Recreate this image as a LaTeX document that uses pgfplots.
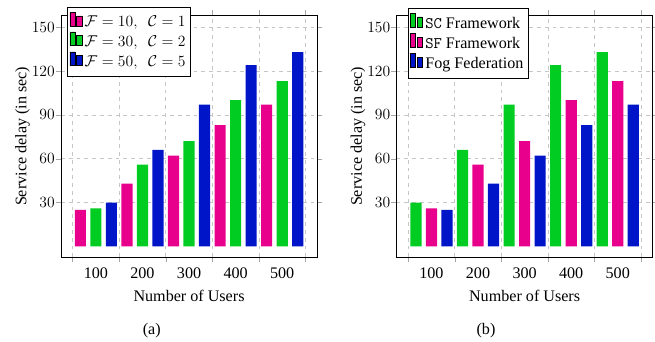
\documentclass[border=0pt]{standalone}
\usepackage[no-math]{fontspec}
\setmainfont{Liberation Serif}
\usepackage{pgfplots}
\pgfplotsset{compat=1.18}
\definecolor{cpink}{RGB}{232,0,140}
\definecolor{cgreen}{RGB}{0,204,34}
\definecolor{cblue}{RGB}{0,20,200}
\pgfplotsset{myaxis/.style={
  width=197pt, height=186pt, scale only axis,
  xmin=0.25, xmax=5.75, ymin=-7.5, ymax=158,
  xtick={1,2,3,4,5}, xticklabels={100,200,300,400,500},
  minor xtick={0.5,1.5,2.5,3.5,4.5,5.5},
  ytick={30,60,90,120,150},
  xmajorgrids=false, xminorgrids=true, ymajorgrids=true,
  grid style={dashed, gray!45},
  minor grid style={dashed, gray!45},
  tick align=outside,
  major tick length=4pt, minor tick length=4pt,
  major x tick style={draw=none},
  tick style={gray!70},
  yticklabel style={xshift=3.5pt},
  ylabel shift=-7pt,
  ybar, bar width=0.24,
  xlabel={Number of Users},
  ylabel={Service delay (in sec)},
  legend cell align=left,
  legend image code/.code={\draw[##1,/tikz/.cd,bar width=4pt,yshift=-0.2em,bar shift=0pt] plot coordinates {(0pt,0.85em) (5.2pt,0.62em)};},
  legend style={anchor=north west, row sep=0pt, inner xsep=1.5pt, inner ysep=3.5pt},
}}
\begin{document}
\fontsize{12.4}{15}\selectfont
\begin{tikzpicture}[font=\fontsize{12.4}{15}\selectfont]
\path[use as bounding box] (-46.9pt,11.9pt) rectangle (456.9pt,-250.4pt);
\begin{axis}[myaxis, name=A, at={(0,0)}, anchor=north west,
  legend style={at={(0.025,1.035)}}]
\addplot[fill=cpink, draw=none, bar shift=-0.333] coordinates {(1,25) (2,43) (3,62) (4,83) (5,97)};
\addlegendentry{$\mathcal{F}=10,\ \ \mathcal{C}=1$}
\addplot[fill=cgreen, draw=none, bar shift=0] coordinates {(1,26) (2,56) (3,72) (4,100) (5,113)};
\addlegendentry{$\mathcal{F}=30,\ \ \mathcal{C}=2$}
\addplot[fill=cblue, draw=none, bar shift=0.333] coordinates {(1,30) (2,66) (3,97) (4,124) (5,133)};
\addlegendentry{$\mathcal{F}=50,\ \ \mathcal{C}=5$}
\end{axis}
\begin{axis}[myaxis, name=B, at={(258.1pt,0)}, anchor=north west,
  legend style={at={(0.045,1.03)}}]
\addplot[fill=cgreen, draw=none, bar shift=-0.333] coordinates {(1,30) (2,66) (3,97) (4,124) (5,133)};
\addlegendentry{\texttt{SC} Framework}
\addplot[fill=cpink, draw=none, bar shift=0] coordinates {(1,26) (2,56) (3,72) (4,100) (5,113)};
\addlegendentry{\texttt{SF} Framework}
\addplot[fill=cblue, draw=none, bar shift=0.333] coordinates {(1,25) (2,43) (3,62) (4,83) (5,97)};
\addlegendentry{Fog Federation}
\end{axis}
\node at ([xshift=69.8pt,yshift=-242.5pt]A.north west) {(a)};
\node at ([xshift=68.8pt,yshift=-242.5pt]B.north west) {(b)};
\end{tikzpicture}
\end{document}
